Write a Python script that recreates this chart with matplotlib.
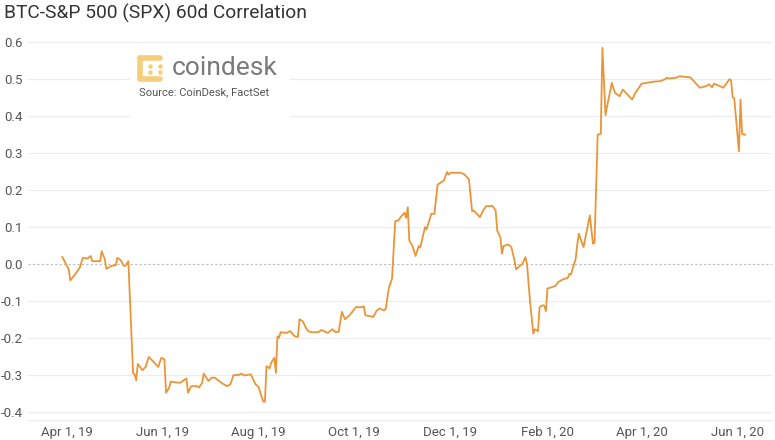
import pandas as pd
import matplotlib
matplotlib.use("Agg")
import matplotlib.pyplot as plt
import matplotlib.dates as mdates
from matplotlib.patches import Circle, Rectangle
from matplotlib.lines import Line2D

# days after Apr 1, 2019 and the 60d correlation
start = "2019-04-01"
days = [-3, 1, 2, 5, 8, 10, 13, 15, 16, 21, 22, 24, 25, 28, 31, 32, 34, 36, 37, 39,
        42, 43, 44, 45, 48, 50, 52, 55, 58, 60, 62, 63, 65, 66, 72, 76, 77, 79, 83, 84,
        86, 87, 90, 92, 94, 99, 102, 104, 106, 109, 111, 113, 117, 120, 122, 123, 125, 126, 127, 129,
        130, 132, 133, 134, 135, 136, 140, 142, 145, 147, 148, 150, 153, 155, 160, 162, 165, 166, 169, 171,
        173, 175, 177, 180, 182, 184, 187, 189, 190, 195, 197, 199, 202, 203, 205, 207, 209, 211, 213, 215,
        216, 217, 218, 220, 222, 224, 225, 228, 229, 232, 234, 236, 240, 242, 243, 244, 251, 253, 256, 258,
        259, 261, 263, 265, 267, 271, 273, 274, 276, 277, 278, 281, 283, 285, 286, 290, 292, 293, 295, 297,
        298, 300, 301, 303, 304, 305, 306, 309, 311, 313, 316, 319, 320, 321, 324, 325, 326, 329, 333, 335,
        336, 338, 340, 341, 343, 344, 347, 349, 352, 354, 356, 360, 362, 366, 369, 373, 378, 381, 382, 383,
        388, 390, 397, 399, 403, 407, 409, 411, 412, 416, 418, 422, 423, 424, 425, 428, 429, 430, 432]
corr = [0.019, -0.014, -0.044, -0.028, -0.010, 0.017, 0.015, 0.022, 0.008, 0.008, 0.035, 0.013, -0.013, -0.005, -0.003, 0.017, 0.011, -0.004, -0.005, 0.008,
        -0.294, -0.298, -0.314, -0.270, -0.287, -0.278, -0.251, -0.264, -0.278, -0.253, -0.258, -0.348, -0.334, -0.318, -0.321, -0.309, -0.348, -0.330, -0.330, -0.334,
        -0.321, -0.296, -0.316, -0.307, -0.307, -0.323, -0.330, -0.325, -0.300, -0.300, -0.296, -0.301, -0.298, -0.325, -0.332, -0.347, -0.372, -0.372, -0.276, -0.282,
        -0.267, -0.253, -0.294, -0.195, -0.199, -0.184, -0.186, -0.181, -0.195, -0.197, -0.149, -0.154, -0.179, -0.184, -0.184, -0.178, -0.184, -0.186, -0.176, -0.184,
        -0.183, -0.129, -0.149, -0.138, -0.127, -0.116, -0.117, -0.114, -0.138, -0.143, -0.127, -0.120, -0.125, -0.120, -0.064, -0.039, 0.116, 0.118, 0.130, 0.139,
        0.125, 0.154, 0.064, 0.049, 0.022, 0.049, 0.045, 0.100, 0.094, 0.136, 0.136, 0.215, 0.226, 0.249, 0.242, 0.247, 0.247, 0.243, 0.229, 0.143,
        0.145, 0.136, 0.127, 0.145, 0.157, 0.157, 0.145, 0.091, 0.073, 0.028, 0.049, 0.053, 0.046, 0.010, -0.014, 0.001, 0.019, -0.001, -0.105, -0.188,
        -0.176, -0.181, -0.116, -0.111, -0.113, -0.127, -0.066, -0.062, -0.059, -0.048, -0.041, -0.037, -0.026, -0.028, 0.015, 0.053, 0.082, 0.046, 0.132, 0.055,
        0.058, 0.350, 0.352, 0.585, 0.403, 0.427, 0.490, 0.463, 0.454, 0.472, 0.463, 0.445, 0.463, 0.488, 0.490, 0.493, 0.495, 0.500, 0.504, 0.502,
        0.504, 0.508, 0.505, 0.496, 0.477, 0.481, 0.486, 0.478, 0.488, 0.481, 0.477, 0.500, 0.497, 0.451, 0.449, 0.305, 0.445, 0.352, 0.350]
yticks = [-0.4, -0.3, -0.2, -0.1, 0.0, 0.1, 0.2, 0.3, 0.4, 0.5, 0.6]

dates = pd.Timestamp(start) + pd.to_timedelta(days, unit="D")

plt.rcParams["font.family"] = ["Roboto", "DejaVu Sans"]

fig = plt.figure(figsize=(7.75, 4.4), dpi=100)
ax = fig.add_axes([0.036, 0.045, 0.96, 0.875])

ax.plot(dates, corr, color="#EA9538", lw=1.3, zorder=3)

ax.set_xlim(pd.Timestamp(start) - pd.Timedelta(days=25), pd.Timestamp(start) + pd.Timedelta(days=449))
ax.set_ylim(-0.422, 0.619)
ax.set_yticks(yticks)
ax.set_yticklabels([f"{v:.1f}" for v in yticks])
ax.xaxis.set_major_locator(mdates.MonthLocator(bymonth=[2, 4, 6, 8, 10, 12]))
ax.xaxis.set_major_formatter(mdates.DateFormatter("%b %-d, %y"))

for v in yticks:
    if v == 0:
        ax.axhline(v, color="#bbbbbb", lw=0.8, ls=(0, (2, 2)), zorder=1)
    else:
        ax.axhline(v, color="#ececec", lw=0.8, zorder=1)

for s in ["top", "right", "left"]:
    ax.spines[s].set_visible(False)
ax.spines["bottom"].set_color("#ececec")
ax.tick_params(length=0, labelsize=9.5, colors="#555555")
ax.tick_params(axis="y", pad=4)
ax.tick_params(axis="x", pad=4)

fig.text(0.005, 0.970, "BTC-S&P 500 (SPX) 60d Correlation", fontsize=13.8, color="#333333", va="center", ha="left")

# watermark: white box, bracket-shaped dot logo, wordmark and source
box = Rectangle((130 / 775, 1 - 117 / 440), 160 / 775, 70 / 440, transform=fig.transFigure,
                facecolor="white", edgecolor="none", zorder=2)
ax.add_artist(box)
gold = "#F6CD7A"
def px(x, y):
    return x / 775, 1 - y / 440
bars = [[(139.5, 58), (160, 58)], [(139.5, 58), (139.5, 79.5)], [(139.5, 79.5), (160, 79.5)]]
for seg in bars:
    (x0, y0), (x1, y1) = px(*seg[0]), px(*seg[1])
    fig.add_artist(Line2D([x0, x1], [y0, y1], transform=fig.transFigure, color=gold,
                          lw=4, solid_capstyle="round", zorder=4))
for dx, dy in [(150, 66), (150, 72), (160, 66), (160, 72)]:
    x0, y0 = px(dx, dy)
    fig.add_artist(Line2D([x0], [y0], transform=fig.transFigure, marker="o", ms=2.2,
                          color=gold, lw=0, zorder=4))
fig.text(172 / 775, 1 - 68 / 440, "coindesk", fontsize=19, color="#7a7a7a", va="center", ha="left")
fig.text(139 / 775, 1 - 92 / 440, "Source: CoinDesk, FactSet", fontsize=8, color="#555555", va="center", ha="left")

fig.savefig("out.png", dpi=100)
plt.close(fig)
